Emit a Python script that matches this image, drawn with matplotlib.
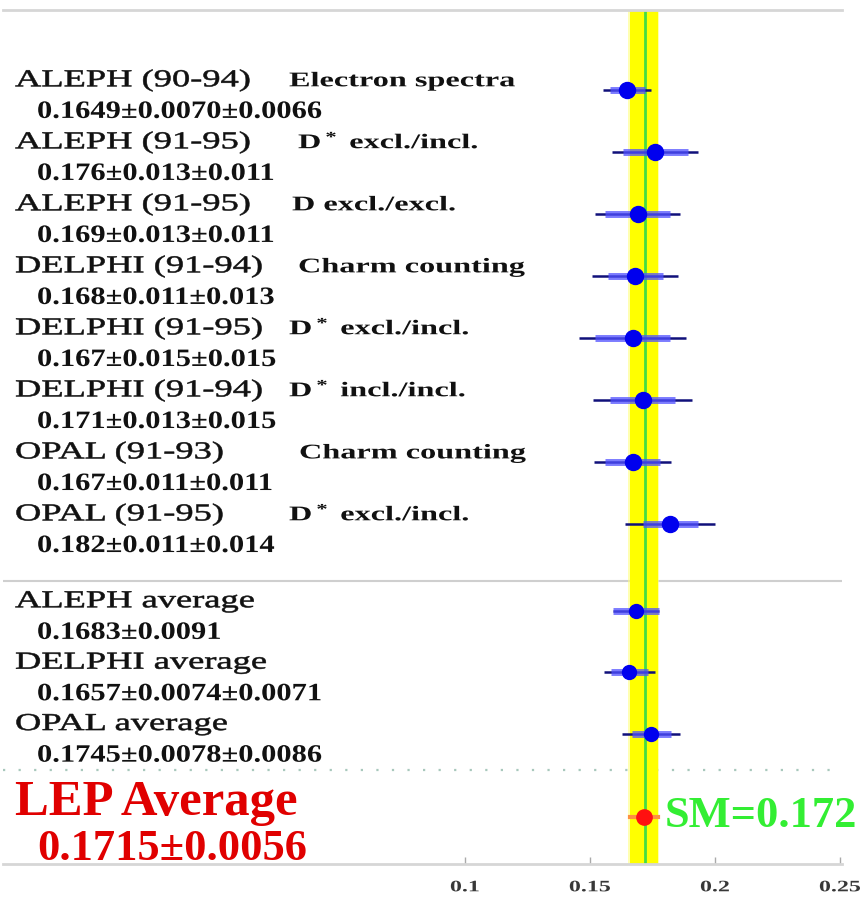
import matplotlib
matplotlib.use("Agg")
import matplotlib.pyplot as plt
import numpy as np
from matplotlib import patheffects
from matplotlib.transforms import Affine2D, blended_transform_factory

plt.rcParams["font.family"] = "Liberation Serif"
plt.rcParams["mathtext.fontset"] = "custom"
plt.rcParams["mathtext.rm"] = "Liberation Serif:bold"
plt.rcParams["mathtext.it"] = "Liberation Serif:bold"

# individual R_c measurements
experiments = [
    "ALEPH (90-94)", "ALEPH (91-95)", "ALEPH (91-95)", "DELPHI (91-94)",
    "DELPHI (91-95)", "DELPHI (91-94)", "OPAL (91-93)", "OPAL (91-95)",
]
methods = [
    "Electron spectra", "D$^*$ excl./incl.", "D excl./excl.", "Charm counting",
    "D$^*$ excl./incl.", "D$^*$ incl./incl.", "Charm counting", "D$^*$ excl./incl.",
]
rc = [0.1649, 0.176, 0.169, 0.168, 0.167, 0.171, 0.167, 0.182]
rc_stat = [0.0070, 0.013, 0.013, 0.011, 0.015, 0.013, 0.011, 0.011]
rc_syst = [0.0066, 0.011, 0.011, 0.013, 0.015, 0.015, 0.011, 0.014]
rc_text = [
    "0.1649±0.0070±0.0066", "0.176±0.013±0.011", "0.169±0.013±0.011",
    "0.168±0.011±0.013", "0.167±0.015±0.015", "0.171±0.013±0.015",
    "0.167±0.011±0.011", "0.182±0.011±0.014",
]

# per-experiment averages
avg_names = ["ALEPH average", "DELPHI average", "OPAL average"]
avg_rc = [0.1683, 0.1657, 0.1745]
avg_stat = [0.0091, 0.0074, 0.0078]
avg_syst = [0.0, 0.0071, 0.0086]
avg_text = ["0.1683±0.0091", "0.1657±0.0074±0.0071", "0.1745±0.0078±0.0086"]

lep_rc = 0.1715
lep_err = 0.0056
sm_rc = 0.172

W, H = 863, 898
method_px = [289, 298, 292, 298, 289, 289, 299, 289]


class Stretch(patheffects.AbstractPathEffect):
    """Widen glyphs horizontally around the left edge (or the centre),
    optionally thickening them with a thin outline."""

    def __init__(self, sx, centre=False, lw=0.0):
        super().__init__()
        self._sx = sx
        self._centre = centre
        self._lw = lw

    def draw_path(self, renderer, gc, tpath, affine, rgbFace=None):
        x0 = 0.0
        if self._centre:
            ext = tpath.get_extents()
            x0 = (ext.x0 + ext.x1) / 2
        wide = Affine2D().translate(-x0, 0).scale(self._sx, 1).translate(x0, 0)
        gc0 = renderer.new_gc()
        gc0.copy_properties(gc)
        if self._lw and rgbFace is not None:
            gc0.set_linewidth(self._lw)
            gc0.set_foreground(rgbFace)
            gc0.set_joinstyle("round")
        renderer.draw_path(gc0, tpath, wide + affine, rgbFace)
        gc0.restore()


def total(a, b):
    return np.hypot(np.asarray(a), np.asarray(b))


def draw_point(ax, y, x, stat, err, size):
    ax.plot([x - err, x + err], [y, y], color="#10107a", lw=1.8,
            solid_capstyle="butt", zorder=3)
    ax.plot([x - stat, x + stat], [y, y], color="#5050ff", lw=5,
            alpha=0.75, solid_capstyle="butt", zorder=4)
    ax.plot(x, y, "o", color="#0000ee", ms=size, mec="#0000ee", zorder=5)


fig = plt.figure(figsize=(W / 100, H / 100), dpi=100)
ax = fig.add_axes([3 / W, 1 - 864 / H, (842 - 3) / W, (864 - 10) / H])
ax.set_xlim(-0.0848, 0.2508)
ax.set_ylim(12.48, -1.29)

rows = np.arange(len(rc))
avg_rows = 8.4 + np.arange(len(avg_rc)) * 0.99
lep_row = 11.72

# LEP band and Standard Model line
ax.axvspan(lep_rc - lep_err - 0.0006, lep_rc + lep_err + 0.0006,
           color="#ffff80", alpha=0.6, lw=0, zorder=1)
ax.axvspan(lep_rc - lep_err, lep_rc + lep_err, color="#ffff00", lw=0, zorder=1)
ax.axvline(sm_rc, color="#44dd44", lw=2, zorder=2)

err_tot = total(rc_stat, rc_syst)
for y, x, s, e in zip(rows, rc, rc_stat, err_tot):
    draw_point(ax, y, x, s, e, 11.5)

avg_tot = total(avg_stat, avg_syst)
for y, x, s, e in zip(avg_rows, avg_rc, avg_stat, avg_tot):
    draw_point(ax, y, x, s, e, 10)

ax.plot([lep_rc - lep_err, lep_rc + lep_err], [lep_row, lep_row],
        color="#ff9040", lw=3, zorder=4)
ax.plot(lep_rc, lep_row, "o", color="#ff1010", ms=11, zorder=5)

# separators
ax.axhline(7.92, color="#cfcfcf", lw=1.5, zorder=0)
ax.axhline(10.97, color="#a8c8bc", lw=1.6, ls=(0, (1, 6)), zorder=0)

for side in ("left", "right"):
    ax.spines[side].set_visible(False)
for side in ("top", "bottom"):
    ax.spines[side].set_color("#d6d6d6")
    ax.spines[side].set_linewidth(2)
ax.set_yticks([])
ax.set_xticks([0.1, 0.15, 0.2, 0.25], ["0.1", "0.15", "0.2", "0.25"])
ax.tick_params(axis="x", direction="in", length=5, width=1, color="#aaaaaa",
               pad=11, labelsize=11.5, labelcolor="#383838")
for lab in ax.get_xticklabels():
    lab.set_fontweight("bold")
    lab.set_path_effects([Stretch(1.5, centre=True)])

trans = blended_transform_factory(fig.transFigure, ax.transData)
name_fx = [Stretch(1.5, lw=0.4)]
method_fx = [Stretch(1.55)]
value_fx = [Stretch(1.22)]


def row_text(y, name, value, method=None, mx=None):
    ax.text(15 / W, y - 0.06, name, transform=trans, fontsize=17.5,
            va="baseline", color="#111111", path_effects=name_fx)
    ax.text(37 / W, y + 0.45, value, transform=trans, fontsize=18,
            fontweight="bold", va="baseline", color="#111111",
            path_effects=value_fx)
    if method is not None:
        ax.text(mx / W, y - 0.06, method, transform=trans, fontsize=15,
                fontweight="bold", va="baseline", color="#111111",
                path_effects=method_fx)


for y, name, value, method, mx in zip(rows, experiments, rc_text, methods,
                                      method_px):
    row_text(y, name, value, method, mx)

for y, name, value in zip(avg_rows, avg_names, avg_text):
    row_text(y, name, value)

ax.text(15 / W, lep_row - 0.03, "LEP Average", transform=trans, fontsize=36.5,
        fontweight="bold", va="baseline", color="#e00000")
ax.text(37 / W, lep_row + 0.7, f"{lep_rc}±{lep_err}", transform=trans,
        fontsize=32, fontweight="bold", va="baseline", color="#e00000")
ax.text(sm_rc + 0.0078, lep_row + 0.17, f"SM={sm_rc}", fontsize=32,
        fontweight="bold", va="baseline", color="#33ee33")

fig.savefig("out.png", dpi=100)
